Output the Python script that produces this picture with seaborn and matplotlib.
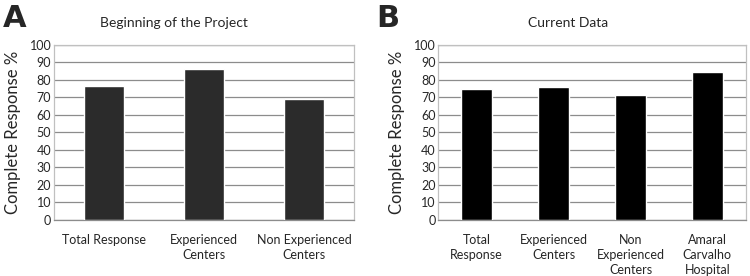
import matplotlib
matplotlib.use("Agg")
import matplotlib.pyplot as plt
import pandas as pd
import seaborn as sns

# panel A - beginning of the project
labels_a = ["Total Response", "Experienced\nCenters", "Non Experienced\nCenters"]
values_a = [76.5, 86.0, 69.0]

# panel B - current data
labels_b = ["Total\nResponse", "Experienced\nCenters", "Non\nExperienced\nCenters", "Amaral\nCarvalho\nHospital"]
values_b = [75.0, 75.8, 71.3, 84.8]

yticks = list(range(0, 101, 10))

sns.set_theme(style="white")
plt.rcParams["font.family"] = ["Lato", "DejaVu Sans"]

fig = plt.figure(figsize=(7.5, 2.76), dpi=100)
ax_a = fig.add_axes([0.072, 0.203, 0.400, 0.634])
ax_b = fig.add_axes([0.5844, 0.203, 0.4099, 0.634])


def draw_panel(ax, labels, values, color):
    df = pd.DataFrame({"cat": labels, "val": values})
    sns.barplot(data=df, x="cat", y="val", color=color, width=0.4,
                saturation=1, ax=ax, zorder=3)
    ax.set_ylim(0, 100)
    ax.set_yticks(yticks)
    ax.yaxis.grid(True, color="#8c8c8c", linewidth=0.9, zorder=0)
    ax.set_axisbelow(True)
    for s in ax.spines.values():
        s.set_visible(True)
        s.set_color("#c0c0c0")
        s.set_linewidth(0.9)
    ax.spines["bottom"].set_color("#8c8c8c")
    ax.set_xlabel("")
    ax.set_ylabel("Complete Response %", fontsize=12, labelpad=6)
    ax.tick_params(axis="y", labelsize=9, pad=2, length=0)
    ax.tick_params(axis="x", labelsize=9, pad=10, length=0)
    for t in ax.get_xticklabels():
        t.set_linespacing(1.3)
        t.set_verticalalignment("top")


draw_panel(ax_a, labels_a, values_a, "#2b2b2b")
draw_panel(ax_b, labels_b, values_b, "#000000")

fig.text(0.004, 0.985, "A", fontsize=22, fontweight="bold", va="top", ha="left",
         family="DejaVu Sans")
fig.text(0.502, 0.985, "B", fontsize=22, fontweight="bold", va="top", ha="left",
         family="DejaVu Sans")
fig.text(0.232, 0.915, "Beginning of the Project", fontsize=10, ha="center", va="center")
fig.text(0.757, 0.915, "Current Data", fontsize=10, ha="center", va="center")

fig.savefig("out.png", dpi=100)
